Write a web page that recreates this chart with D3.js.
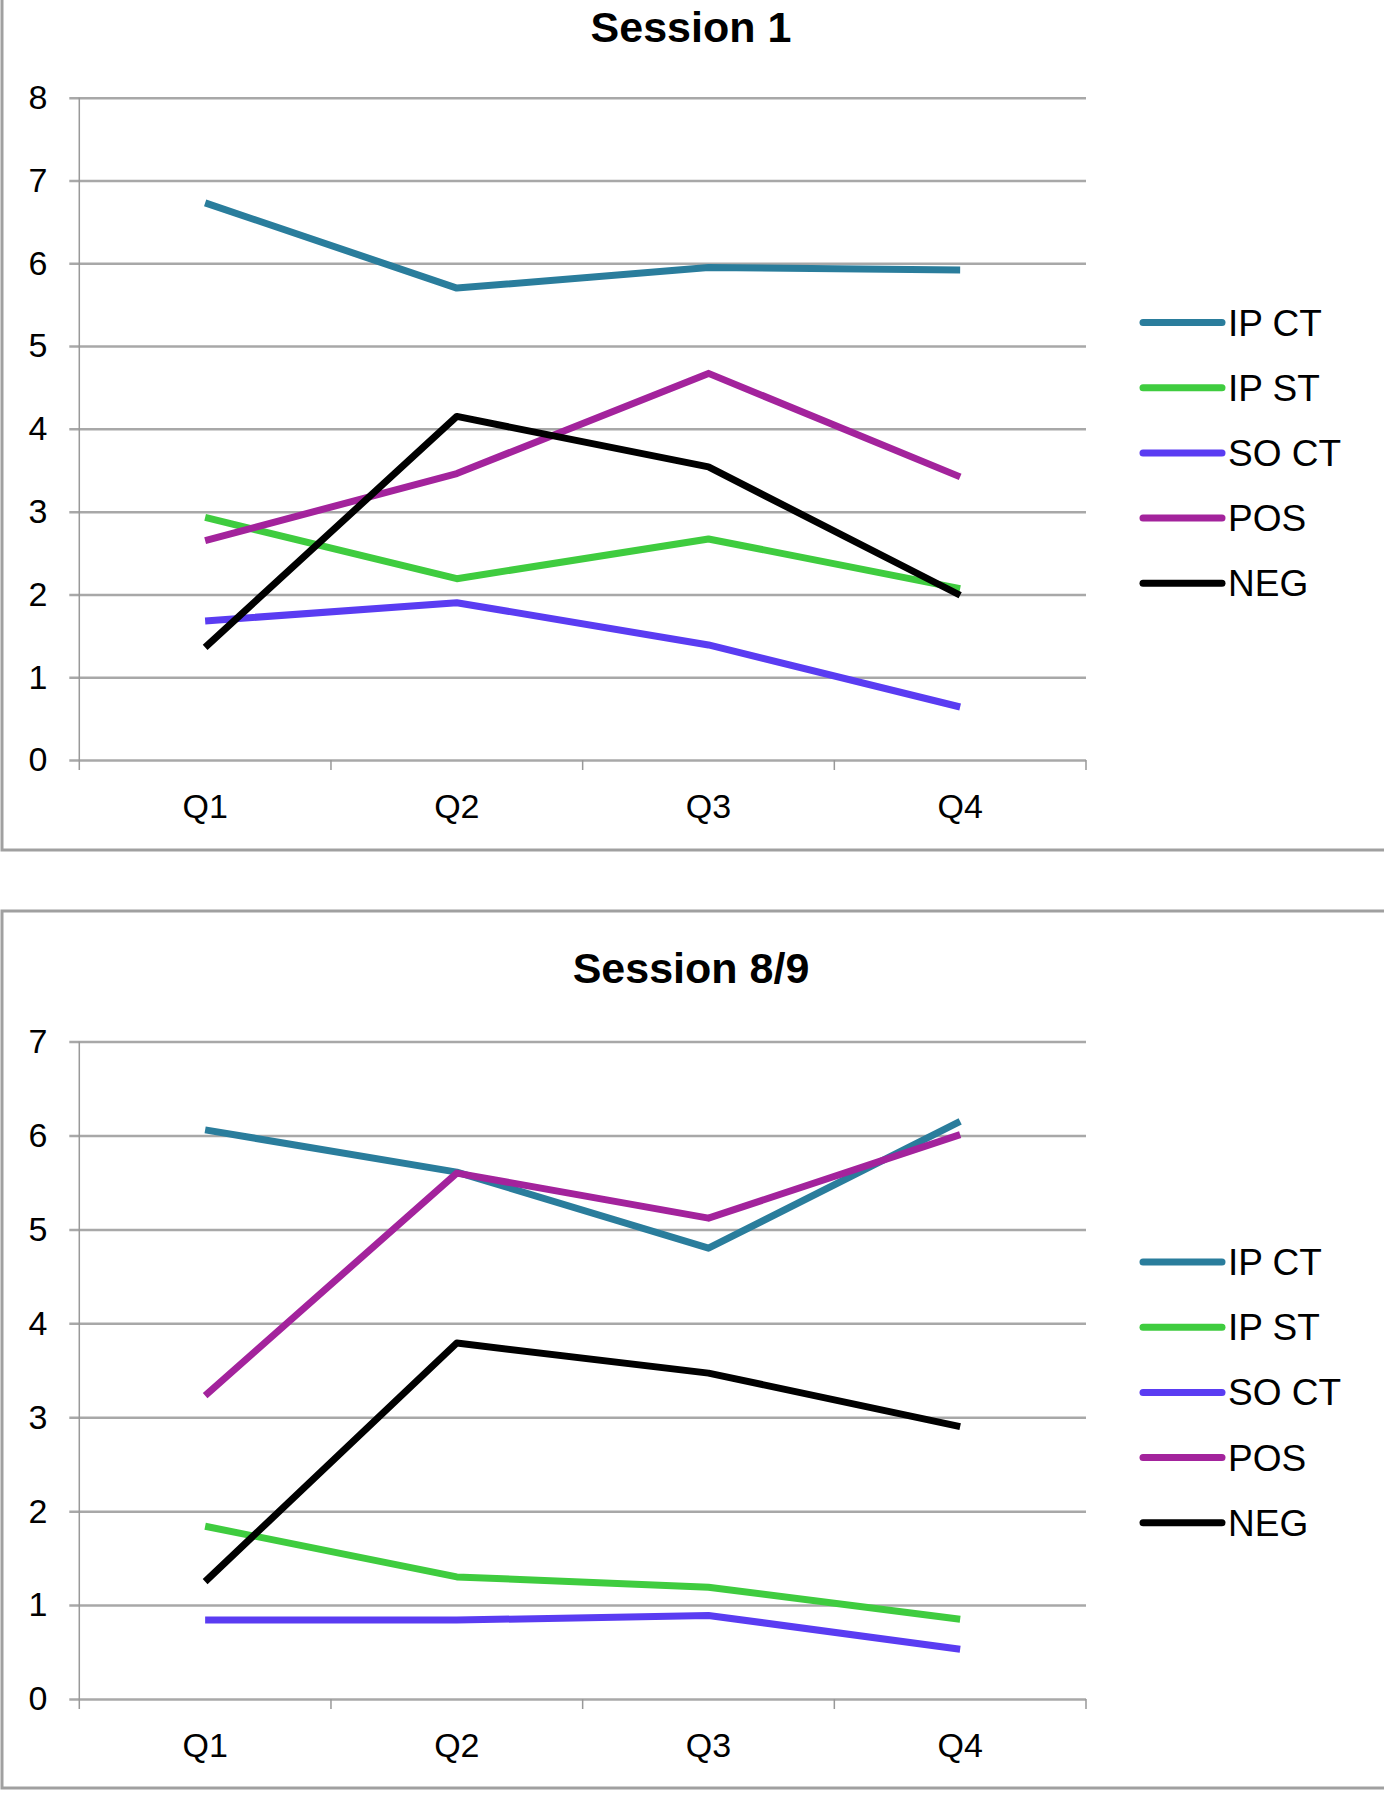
<!DOCTYPE html>
<html>
<head>
<meta charset="utf-8">
<script src="https://cdn.jsdelivr.net/npm/d3@7"></script>
<style>
  body { margin: 0; background: #fff; }
  svg { display: block; font-family: "Liberation Sans", Arial, sans-serif; }
</style>
</head>
<body>
<script>
const quarters = ["Q1", "Q2", "Q3", "Q4"];
const seriesNames = ["IP CT", "IP ST", "SO CT", "POS", "NEG"];
const seriesColors = ["#2a7d9c", "#3fcc3f", "#5a3cf2", "#a3239c", "#000000"];

const session1Title = "Session 1";
const session1Ticks = [0, 1, 2, 3, 4, 5, 6, 7, 8];
const session1IpCt = [6.73, 5.70, 5.95, 5.92];
const session1IpSt = [2.93, 2.19, 2.67, 2.07];
const session1SoCt = [1.68, 1.90, 1.39, 0.64];
const session1Pos = [2.65, 3.46, 4.67, 3.42];
const session1Neg = [1.36, 4.15, 3.54, 1.99];

const session89Title = "Session 8/9";
const session89Ticks = [0, 1, 2, 3, 4, 5, 6, 7];
const session89IpCt = [6.06, 5.61, 4.80, 6.15];
const session89IpSt = [1.84, 1.30, 1.19, 0.85];
const session89SoCt = [0.84, 0.84, 0.89, 0.53];
const session89Pos = [3.23, 5.60, 5.12, 6.01];
const session89Neg = [1.25, 3.79, 3.47, 2.90];

const W = 1384, H = 1800;
const svg = d3.select("body").append("svg")
  .attr("width", W)
  .attr("height", H);

const panels = [
  {
    title: session1Title, ticks: session1Ticks,
    values: [session1IpCt, session1IpSt, session1SoCt, session1Pos, session1Neg],
    frame: [-10, 850], top: 97.7, bottom: 760, titleY: 42, legendY: 322.5
  },
  {
    title: session89Title, ticks: session89Ticks,
    values: [session89IpCt, session89IpSt, session89SoCt, session89Pos, session89Neg],
    frame: [911, 1788], top: 1041.6, bottom: 1699, titleY: 983, legendY: 1262
  }
];

const left = 79.3, right = 1086;
const gridColor = "#a8a8a8";

const drawPanel = p => {
  const g = svg.append("g");

  g.append("rect")
    .attr("x", 2)
    .attr("y", p.frame[0])
    .attr("width", W + 20)
    .attr("height", p.frame[1] - p.frame[0])
    .attr("fill", "none")
    .attr("stroke", "#a0a0a0")
    .attr("stroke-width", 3);

  g.append("text")
    .attr("x", 691)
    .attr("y", p.titleY)
    .attr("text-anchor", "middle")
    .style("font-size", "43px")
    .style("font-weight", "bold")
    .attr("fill", "#000")
    .text(p.title);

  const x = d3.scaleBand().domain(quarters).range([left, right]);
  const y = d3.scaleLinear()
    .domain([0, d3.max(p.ticks)])
    .range([p.bottom, p.top]);

  // gridlines, running through the little tick marks on the left
  const grid = g.append("g")
    .attr("transform", `translate(${left - 10}, 0)`)
    .call(d3.axisRight(y).tickValues(p.ticks).tickSize(right - left + 10).tickFormat(""));
  grid.select(".domain").remove();
  grid.selectAll(".tick line")
    .attr("stroke", gridColor)
    .attr("stroke-width", 2.5);

  const yAxis = g.append("g")
    .attr("transform", `translate(${left - 10}, 0)`)
    .call(d3.axisLeft(y).tickValues(p.ticks).tickFormat(d3.format("d")).tickSize(0).tickPadding(22));
  yAxis.select(".domain").remove();
  yAxis.selectAll("text")
    .style("font-size", "34px")
    .attr("fill", "#000");

  g.append("line")
    .attr("x1", left).attr("x2", left)
    .attr("y1", p.top).attr("y2", p.bottom + 10)
    .attr("stroke", "#999")
    .attr("stroke-width", 1.5);

  const edges = quarters.map(q => x(q)).concat([right]);
  g.selectAll(".xtick")
    .data(edges.slice(1))
    .join("line")
    .attr("x1", d => d).attr("x2", d => d)
    .attr("y1", p.bottom).attr("y2", p.bottom + 10)
    .attr("stroke", "#999")
    .attr("stroke-width", 1.5);

  const xAxis = g.append("g")
    .attr("transform", `translate(0, ${p.bottom})`)
    .call(d3.axisBottom(x).tickSize(0).tickPadding(34));
  xAxis.select(".domain").remove();
  xAxis.selectAll("text")
    .style("font-size", "34px")
    .attr("fill", "#000");

  const line = d3.line()
    .x((d, i) => x(quarters[i]) + x.bandwidth() / 2)
    .y(d => y(d));

  p.values.forEach((vals, i) => {
    g.append("path")
      .datum(vals)
      .attr("d", line)
      .attr("fill", "none")
      .attr("stroke", seriesColors[i])
      .attr("stroke-width", 7)
      .attr("stroke-linejoin", "round");
  });

  const legend = g.selectAll(".legend")
    .data(seriesNames)
    .join("g")
    .attr("transform", (d, i) => `translate(1143, ${p.legendY + i * 65.2})`);

  legend.append("line")
    .attr("x1", 0).attr("x2", 79)
    .attr("stroke", (d, i) => seriesColors[i])
    .attr("stroke-width", 7)
    .attr("stroke-linecap", "round");

  legend.append("text")
    .attr("x", 85)
    .attr("y", 13)
    .style("font-size", "37px")
    .attr("fill", "#000")
    .text(d => d);
};

panels.forEach(drawPanel);
</script>
</body>
</html>
